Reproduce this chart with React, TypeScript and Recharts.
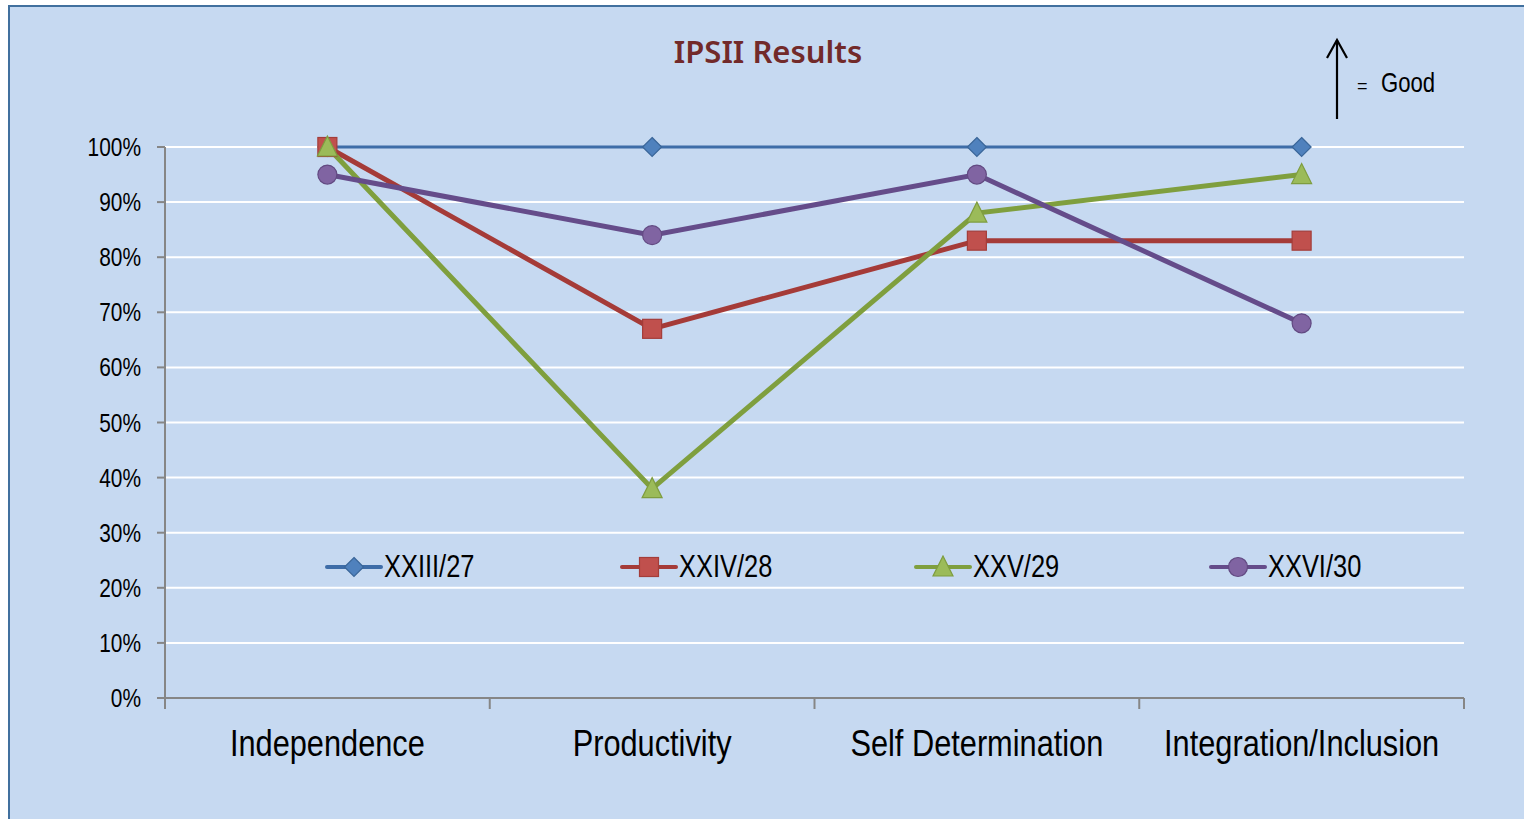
import React from 'react';
import { LineChart, Line, XAxis, YAxis, CartesianGrid, Legend } from 'recharts';

const categories = ['Independence', 'Productivity', 'Self Determination', 'Integration/Inclusion'];
const xxiii27 = [100, 100, 100, 100];
const xxiv28 = [100, 67, 83, 83];
const xxv29 = [100, 38, 88, 95];
const xxvi30 = [95, 84, 95, 68];
const yTicks = [0, 10, 20, 30, 40, 50, 60, 70, 80, 90, 100];
const xTicks = [0, 0.5, 1, 1.5, 2, 2.5, 3, 3.5, 4];

const SANS = "'Liberation Sans', Arial, sans-serif";
const SQUEEZE = 0.82;

const data = categories.map((name, i) => ({
  x: i + 0.5,
  name,
  s1: xxiii27[i],
  s2: xxiv28[i],
  s3: xxv29[i],
  s4: xxvi30[i],
}));

type Shape = 'diamond' | 'square' | 'triangle' | 'circle';

const series = [
  { key: 's1', name: 'XXIII/27', line: '#3E6DA8', fill: '#4F81BD', stroke: '#3A6699', shape: 'diamond' as Shape, width: 3 },
  { key: 's2', name: 'XXIV/28', line: '#A53B38', fill: '#C0504D', stroke: '#A33D3A', shape: 'square' as Shape, width: 5 },
  { key: 's3', name: 'XXV/29', line: '#7F9F3E', fill: '#9BBB59', stroke: '#7E9D3F', shape: 'triangle' as Shape, width: 5 },
  { key: 's4', name: 'XXVI/30', line: '#654C8A', fill: '#8064A2', stroke: '#624A82', shape: 'circle' as Shape, width: 5 },
];

function marker(shape: Shape, cx: number, cy: number, fill: string, stroke: string, key?: string) {
  const s = 9.5;
  if (shape === 'diamond') {
    return <path key={key} d={`M${cx},${cy - s} L${cx + s},${cy} L${cx},${cy + s} L${cx - s},${cy} Z`} fill={fill} stroke={stroke} strokeWidth={1.2} />;
  }
  if (shape === 'square') {
    return <rect key={key} x={cx - s} y={cy - s} width={2 * s} height={2 * s} fill={fill} stroke={stroke} strokeWidth={1.2} />;
  }
  if (shape === 'triangle') {
    return <path key={key} d={`M${cx},${cy - 11} L${cx + 10},${cy + 9} L${cx - 10},${cy + 9} Z`} fill={fill} stroke={stroke} strokeWidth={1.2} />;
  }
  return <circle key={key} cx={cx} cy={cy} r={s} fill={fill} stroke={stroke} strokeWidth={1.2} />;
}

const NarrowText = ({ x, y, size, anchor, children }: any) => (
  <text
    transform={`translate(${x},${y}) scale(${SQUEEZE},1)`}
    textAnchor={anchor}
    fontSize={size}
    fontFamily={SANS}
    fill="#000"
  >
    {children}
  </text>
);

const XTick = (props: any) => {
  const { x, y, payload } = props;
  const v = payload.value as number;
  if (Number.isInteger(v)) {
    return <line x1={x} x2={x} y1={y} y2={y + 11} stroke="#868686" strokeWidth={2} />;
  }
  return (
    <NarrowText x={x} y={y + 58} size={37.5} anchor="middle">
      {categories[Math.floor(v)]}
    </NarrowText>
  );
};

const YTick = (props: any) => {
  const { x, y, payload } = props;
  return (
    <NarrowText x={x} y={y + 9} size={25.5} anchor="end">
      {`${payload.value}%`}
    </NarrowText>
  );
};

const renderLegend = () => (
  <div style={{ display: 'flex', alignItems: 'center' }}>
    {series.map((s) => (
      <div key={s.key} style={{ width: 294.5, display: 'flex', alignItems: 'center' }}>
        <svg width={58} height={24} style={{ display: 'block' }}>
          <line x1={2} x2={56} y1={12} y2={12} stroke={s.line} strokeWidth={4} strokeLinecap="round" />
          {marker(s.shape, 29, 12, s.fill, s.stroke)}
        </svg>
        <span
          style={{
            fontFamily: SANS,
            fontSize: 31,
            color: '#000',
            lineHeight: '30px',
            marginLeft: 1,
            display: 'inline-block',
            transform: `scaleX(${SQUEEZE})`,
            transformOrigin: 'left center',
            whiteSpace: 'nowrap',
          }}
        >
          {s.name}
        </span>
      </div>
    ))}
  </div>
);

export default function App() {
  return (
    <div style={{ position: 'fixed', left: 0, top: 0, width: 1524, height: 819, overflow: 'hidden', background: '#fff' }}>
      <div style={{ position: 'absolute', left: 8, top: 5, width: 1600, height: 900, background: '#C6D9F1', border: '2px solid #41709E' }} />
      <div style={{ position: 'absolute', left: 0, top: 0 }}>
        <LineChart width={1524} height={819} data={data} margin={{ top: 147, right: 60, left: 105, bottom: 61 }}>
          <CartesianGrid vertical={false} stroke="#FFFFFF" strokeWidth={2} />
          <XAxis
            dataKey="x"
            type="number"
            domain={[0, 4]}
            ticks={xTicks}
            interval={0}
            height={60}
            tickLine={false}
            tickSize={0}
            tickMargin={0}
            axisLine={{ stroke: '#868686', strokeWidth: 2 }}
            tick={<XTick />}
          />
          <YAxis
            domain={[0, 100]}
            ticks={yTicks}
            interval={0}
            width={60}
            tickSize={8}
            tickMargin={16}
            tick={<YTick />}
            axisLine={{ stroke: '#868686', strokeWidth: 2 }}
            tickLine={{ stroke: '#868686', strokeWidth: 2 }}
          />
          <Legend
            layout="horizontal"
            verticalAlign="middle"
            align="center"
            content={renderLegend}
            wrapperStyle={{ position: 'absolute', left: 325, top: 552, width: 1200 }}
          />
          {series.map((s) => (
            <Line
              key={s.key}
              type="linear"
              dataKey={s.key}
              name={s.name}
              stroke={s.line}
              strokeWidth={s.width}
              isAnimationActive={false}
              dot={(p: any) => marker(s.shape, p.cx, p.cy, s.fill, s.stroke, `${s.key}-${p.index}`)}
              activeDot={false}
            />
          ))}
        </LineChart>
      </div>
      <div style={{ position: 'absolute', left: 0, top: 30, width: 1536, textAlign: 'center', fontFamily: "'Noto Sans', sans-serif", fontWeight: 600, fontSize: 31, color: '#722A2A' }}>
        IPSII Results
      </div>
      <svg style={{ position: 'absolute', left: 1300, top: 30 }} width={200} height={100}>
        <line x1={37} x2={37} y1={10} y2={89} stroke="#000" strokeWidth={2.2} />
        <polyline points="27,28 37,10 47,28" fill="none" stroke="#000" strokeWidth={2.2} />
        <text x={57} y={62} fontSize={18} fontFamily={SANS} fill="#000">=</text>
        <text transform={`translate(81,62) scale(${SQUEEZE},1)`} fontSize={27} fontFamily={SANS} fill="#000">Good</text>
      </svg>
    </div>
  );
}
